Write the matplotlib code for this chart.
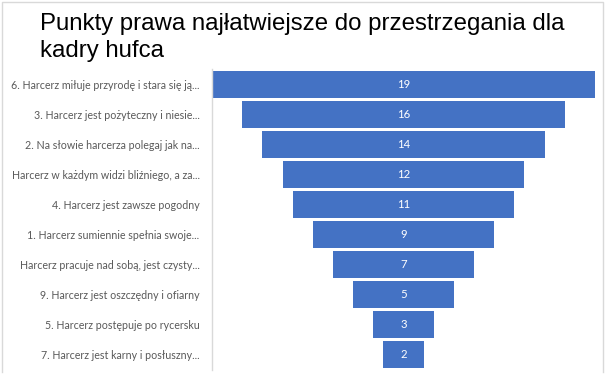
import matplotlib
matplotlib.use("Agg")
import matplotlib.pyplot as plt
from matplotlib.lines import Line2D

title_lines = ["Punkty prawa najłatwiejsze do przestrzegania dla", "kadry hufca"]
categories = [
    "6. Harcerz miłuje przyrodę i stara się ją...",
    "3. Harcerz jest pożyteczny i niesie...",
    "2. Na słowie harcerza polegaj jak na...",
    "Harcerz w każdym widzi bliźniego, a za...",
    "4. Harcerz jest zawsze pogodny",
    "1. Harcerz sumiennie spełnia swoje...",
    "Harcerz pracuje nad sobą, jest czysty...",
    "9. Harcerz jest oszczędny i ofiarny",
    "5. Harcerz postępuje po rycersku",
    "7. Harcerz jest karny i posłuszny...",
]
values = [19, 16, 14, 12, 11, 9, 7, 5, 3, 2]

W, H = 605, 381
fig = plt.figure(figsize=(W / 100, H / 100), dpi=100)
fig.patch.set_facecolor("white")

# chart border (left, top, right)
bx0, bx1, by0, by1 = 2 / W, 603 / W, 1 - 372 / H, 1 - 1.5 / H
fig.add_artist(Line2D([bx0, bx0, bx1, bx1], [by0, by1, by1, by0],
                      transform=fig.transFigure, color="#d9d9d9", linewidth=1))

ax = fig.add_axes([212 / W, 1 - 370 / H, 383 / W, 301 / H])
pos = list(range(len(values)))
half = [-v / 2 for v in values]
ax.barh(pos, values, left=half, height=0.9, color="#4472C4")
for p, v in zip(pos, values):
    ax.text(0, p, str(v), ha="center", va="center", color="white",
            fontsize=8.2, family="Lato")

vmax = max(values)
ax.set_xlim(-vmax / 2, vmax / 2)
ax.set_ylim(len(values) - 0.5, -0.5)
ax.set_yticks(pos)
ax.set_yticklabels(categories, fontsize=7.7, family="Lato", color="#595959")
ax.tick_params(axis="y", length=0, pad=9)
ax.set_xticks([])
for s in ["top", "right", "bottom"]:
    ax.spines[s].set_visible(False)
ax.spines["left"].set_color("#d9d9d9")
ax.spines["left"].set_linewidth(1)

fig.text(40 / W, 1 - 30 / H, title_lines[0], fontsize=17.3, family="Liberation Sans",
         va="baseline", ha="left", color="black")
fig.text(40 / W, 1 - 56.7 / H, title_lines[1], fontsize=17.3, family="Liberation Sans",
         va="baseline", ha="left", color="black")

fig.savefig("out.png", dpi=100, facecolor="white")
